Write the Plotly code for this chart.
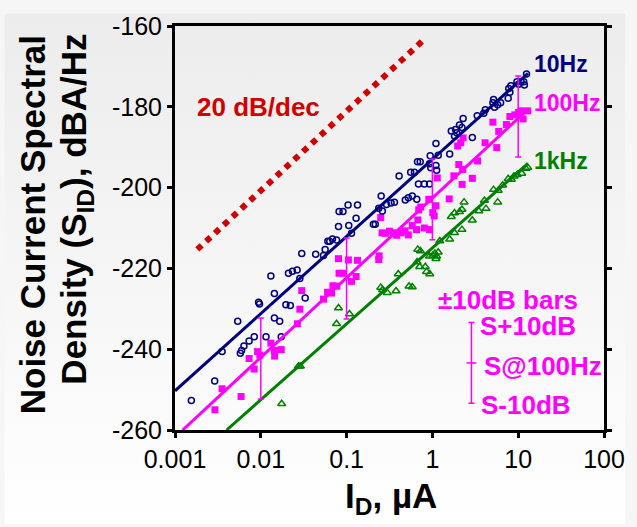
import plotly.graph_objects as go

# ---------------- data ----------------
NAVY_I = [0.00155, 0.0029, 0.00354, 0.00538, 0.00577, 0.00597, 0.00636, 0.00731, 0.00839, 0.00942,
          0.00966, 0.0115, 0.0131, 0.0144, 0.0144, 0.0166, 0.0173, 0.0196, 0.0221, 0.0210,
          0.0234, 0.0265, 0.0285, 0.0329, 0.0300, 0.0436, 0.0538, 0.0562, 0.0604, 0.0636,
          0.0684, 0.0764, 0.0805, 0.0817, 0.0908, 0.106, 0.104, 0.134, 0.129, 0.114,
          0.205, 0.216, 0.237, 0.253, 0.261, 0.292, 0.330, 0.361, 0.409, 0.483,
          0.524, 0.582, 0.658, 0.558, 0.617, 0.688, 0.805, 0.925, 0.670, 0.721,
          0.942, 0.925, 0.957, 1.10, 1.17, 1.10, 1.12, 1.59, 1.66, 1.86,
          2.07, 2.28, 1.81, 1.92, 2.21, 2.92, 3.33, 3.97, 4.14, 5.16,
          5.07, 5.30, 5.77, 6.24, 7.64, 8.00, 7.76, 8.22, 9.66, 10.1,
          10.8, 11.6, 11.8, 12.5]
NAVY_S = [-252.7, -247.9, -240.6, -233.1, -241.0, -240.3, -239.2, -238.0, -236.9, -228.4,
          -228.8, -236.9, -221.9, -226.2, -232.3, -233.1, -236.9, -229.0, -229.2, -221.2,
          -220.7, -220.4, -222.5, -227.3, -216.3, -216.5, -216.8, -215.3, -213.3, -213.3,
          -212.7, -213.0, -209.6, -205.9, -205.9, -209.4, -204.3, -204.3, -207.6, -211.3,
          -209.1, -209.1, -205.1, -202.1, -205.8, -204.2, -203.8, -203.6, -197.1, -203.1,
          -202.5, -202.1, -202.9, -196.2, -196.2, -199.1, -199.1, -199.1, -193.6, -193.6,
          -192.1, -194.1, -195.1, -189.1, -192.0, -194.5, -195.7, -191.7, -186.0, -185.6,
          -184.5, -182.9, -187.2, -186.4, -185.1, -187.6, -182.2, -181.6, -180.7, -178.2,
          -179.0, -180.1, -179.5, -179.0, -177.9, -176.4, -175.5, -174.8, -173.8, -174.4,
          -173.8, -173.8, -174.6, -171.9]

MAG_I = [0.00292, 0.00354, 0.00589, 0.00731, 0.00837, 0.00917, 0.00975, 0.0131, 0.0144, 0.0145,
         0.0173, 0.0267, 0.0285, 0.0300, 0.0538, 0.0600, 0.0667, 0.0693, 0.0770, 0.0805,
         0.0817, 0.0917, 0.105, 0.114, 0.129, 0.134, 0.239, 0.237, 0.250, 0.259,
         0.283, 0.316, 0.351, 0.383, 0.430, 0.481, 0.524, 0.582, 0.653, 0.676,
         0.805, 0.925, 0.693, 0.731, 0.908, 1.01, 1.05, 1.10, 1.14, 1.57,
         1.78, 2.03, 2.25, 2.22, 2.92, 3.36, 1.97, 2.14, 2.28, 4.11,
         5.62, 5.07, 5.93, 7.31, 8.00, 9.12, 10.1, 10.8, 11.4, 12.9]
MAG_S = [-255.0, -249.8, -251.7, -242.3, -244.9, -240.6, -241.5, -238.5, -240.3, -241.7,
         -240.1, -233.7, -230.1, -225.5, -227.6, -225.9, -226.1, -224.3, -224.4, -217.6,
         -221.2, -221.2, -217.9, -223.2, -222.0, -218.0, -216.9, -217.8, -207.4, -211.2,
         -211.3, -210.8, -211.2, -211.8, -211.2, -210.7, -211.7, -209.4, -210.4, -208.0,
         -210.0, -210.4, -205.5, -204.8, -202.9, -206.2, -207.0, -204.5, -197.6, -202.8,
         -197.1, -194.3, -195.5, -199.2, -197.7, -193.4, -189.7, -188.9, -187.7, -188.9,
         -190.1, -183.8, -186.1, -184.4, -182.4, -182.0, -181.4, -181.0, -183.0, -181.0]

GRN_I = [0.0175, 0.0275, 0.0289, 0.0764, 0.0805, 0.108, 0.250, 0.263, 0.298, 0.377,
         0.400, 0.534, 0.582, 0.663, 0.676, 0.725, 0.711, 0.826, 0.855, 0.931,
         0.925, 1.01, 1.07, 1.12, 1.10, 1.17, 1.22, 1.59, 1.66, 1.81,
         2.07, 2.21, 2.34, 2.21, 1.81, 2.92, 3.48, 4.22, 4.04, 5.16,
         5.85, 5.77, 6.58, 7.64, 8.32, 8.93, 9.75, 11.0, 12.3, 12.9]
GRN_S = [-253.5, -244.2, -244.2, -233.7, -229.8, -231.3, -224.7, -225.3, -226.0, -225.6,
         -221.4, -224.4, -224.6, -218.4, -215.3, -215.7, -219.6, -219.6, -220.8, -221.4,
         -217.0, -216.8, -216.3, -217.0, -217.6, -216.0, -213.2, -212.8, -207.2, -206.3,
         -206.0, -205.4, -203.6, -210.4, -211.2, -208.1, -205.8, -205.2, -203.2, -200.5,
         -200.7, -203.6, -199.4, -197.8, -198.0, -197.2, -196.8, -196.5, -195.3, -195.0]

# fitted lines (end points)
NAVY_FIT_I, NAVY_FIT_S = [0.001, 13.0], [-250.3, -171.7]
MAG_FIT_I, MAG_FIT_S = [0.00123, 13.0], [-260.0, -180.6]
GRN_FIT_I, GRN_FIT_S = [0.004, 13.0], [-260.0, -194.0]
REF_I, REF_S = [0.00182, 0.776], [-215.3, -163.6]   # 20 dB/dec guide

# +/-10 dB bars on the 100 Hz fit
ERR_I = [0.01, 0.1, 1.0, 10.0]
ERR_S = [-242.3, -222.5, -202.9, -182.4]
ERR_DB = [10, 10, 10, 10]
KEY_I, KEY_S, KEY_DB = [2.85], [-243.4], [10]

X_TICKS = [0.001, 0.01, 0.1, 1, 10, 100]
X_TICK_TEXT = ["0.001", "0.01", "0.1", "1", "10", "100"]
Y_TICKS = [-260, -240, -220, -200, -180, -160]
Y_TICK_TEXT = ["-260", "-240", "-220", "-200", "-180", "-160"]

# ---------------- styling ----------------
NAVY, MAGENTA, GREEN, RED = "#000080", "#ff00ff", "#008000", "#d40000"
FONT = "Liberation Sans, Arial, sans-serif"
W, H = 637, 527
L, R, T, B = 175, 22, 13, 97
PW, PH = W - L - R, H - T - B


def px(x):
    return (x - L) / PW


def py(y):
    return (H - B - y) / PH


fig = go.Figure()

# data markers
fig.add_trace(go.Scatter(x=MAG_I, y=MAG_S, mode="markers",
                         marker=dict(symbol="square", size=7, color=MAGENTA, line=dict(width=0))))
fig.add_trace(go.Scatter(x=GRN_I, y=GRN_S, mode="markers",
                         marker=dict(symbol="triangle-up-open", size=7, color=GREEN, line=dict(width=1.5))))
fig.add_trace(go.Scatter(x=NAVY_I, y=NAVY_S, mode="markers",
                         marker=dict(symbol="circle-open", size=6, color=NAVY, line=dict(width=1.5))))

# fit lines
fig.add_trace(go.Scatter(x=GRN_FIT_I, y=GRN_FIT_S, mode="lines", line=dict(color=GREEN, width=3)))
fig.add_trace(go.Scatter(x=MAG_FIT_I, y=MAG_FIT_S, mode="lines", line=dict(color=MAGENTA, width=3)))
fig.add_trace(go.Scatter(x=NAVY_FIT_I, y=NAVY_FIT_S, mode="lines", line=dict(color=NAVY, width=3)))

# 20 dB/dec guide
fig.add_trace(go.Scatter(x=REF_I, y=REF_S, mode="lines",
                         line=dict(color=RED, width=6, dash="6px,6px")))

# error bars
fig.add_trace(go.Scatter(x=ERR_I, y=ERR_S, mode="markers",
                         marker=dict(size=1, color="rgba(0,0,0,0)"),
                         error_y=dict(type="data", array=ERR_DB, visible=True, color=MAGENTA,
                                      thickness=1.5, width=3)))
fig.add_trace(go.Scatter(x=KEY_I, y=KEY_S, mode="markers",
                         marker=dict(symbol="line-ew", size=7, color=MAGENTA,
                                     line=dict(width=1.5, color=MAGENTA)),
                         error_y=dict(type="data", array=KEY_DB, visible=True, color=MAGENTA,
                                      thickness=1.5, width=3)))

# background gradient
svg = ("data:image/svg+xml;utf8,<svg xmlns='http://www.w3.org/2000/svg' width='637' height='527'>"
       "<defs><linearGradient id='g' x1='0' y1='0' x2='0' y2='1'>"
       "<stop offset='0' stop-color='%23ececec'/><stop offset='1' stop-color='%23ffffff'/>"
       "</linearGradient></defs><rect width='637' height='527' fill='url(%23g)'/></svg>")
fig.add_layout_image(dict(source=svg, xref="paper", yref="paper",
                          x=px(0), y=py(0), sizex=W / PW, sizey=H / PH,
                          xanchor="left", yanchor="top", sizing="stretch", layer="below"))

ann = []


def text(t, x, y, size, color, xanchor="left", angle=0):
    ann.append(dict(text=t, x=px(x), y=py(y), xref="paper", yref="paper", showarrow=False,
                    xanchor=xanchor, yanchor="middle", textangle=angle,
                    font=dict(family=FONT, size=size, color=color)))


text("<b>20 dB/dec</b>", 196, 97, 26, RED)
text("<b>10Hz</b>", 541, 52, 23, NAVY)
text("<b>100Hz</b>", 541, 92, 23, MAGENTA)
text("<b>1kHz</b>", 541, 152, 23, GREEN)
text("<b>±10dB bars</b>", 443, 296, 26, MAGENTA)
text("<b>S+10dB</b>", 486, 323, 26, MAGENTA)
text("<b>S@100Hz</b>", 490, 364, 26, MAGENTA)
text("<b>S-10dB</b>", 487, 404, 26, MAGENTA)
text("<b>Noise Current Spectral</b>", 29, 218, 35, "black", xanchor="center", angle=-90)
text("<b>Density (S<sub>ID</sub>), dBA/Hz</b>", 74, 202, 35, "black", xanchor="center", angle=-90)
text("<b>I<sub>D</sub>, µA</b>", 397, 500, 35, "black", xanchor="center")

fig.update_layout(
    width=W, height=H,
    margin=dict(l=L, r=R, t=T, b=B, pad=0),
    paper_bgcolor="#f6f6f6",
    plot_bgcolor="rgba(0,0,0,0)",
    showlegend=False,
    annotations=ann,
    font=dict(family=FONT, color="black"),
)
fig.update_xaxes(type="log", range=[-3, 2], tickvals=X_TICKS, ticktext=X_TICK_TEXT,
                 showgrid=False, zeroline=False, showline=True, linecolor="black", linewidth=3,
                 mirror=True, ticks="outside", ticklen=5, tickwidth=3, tickcolor="black",
                 tickfont=dict(family=FONT, size=25, color="black"))
fig.update_yaxes(range=[-260, -160], tickvals=Y_TICKS, ticktext=Y_TICK_TEXT,
                 showgrid=False, zeroline=False, showline=True, linecolor="black", linewidth=3,
                 mirror="ticks", ticks="outside", ticklen=5, tickwidth=3, tickcolor="black",
                 tickfont=dict(family=FONT, size=25, color="black"))

fig.write_html("out.html")
